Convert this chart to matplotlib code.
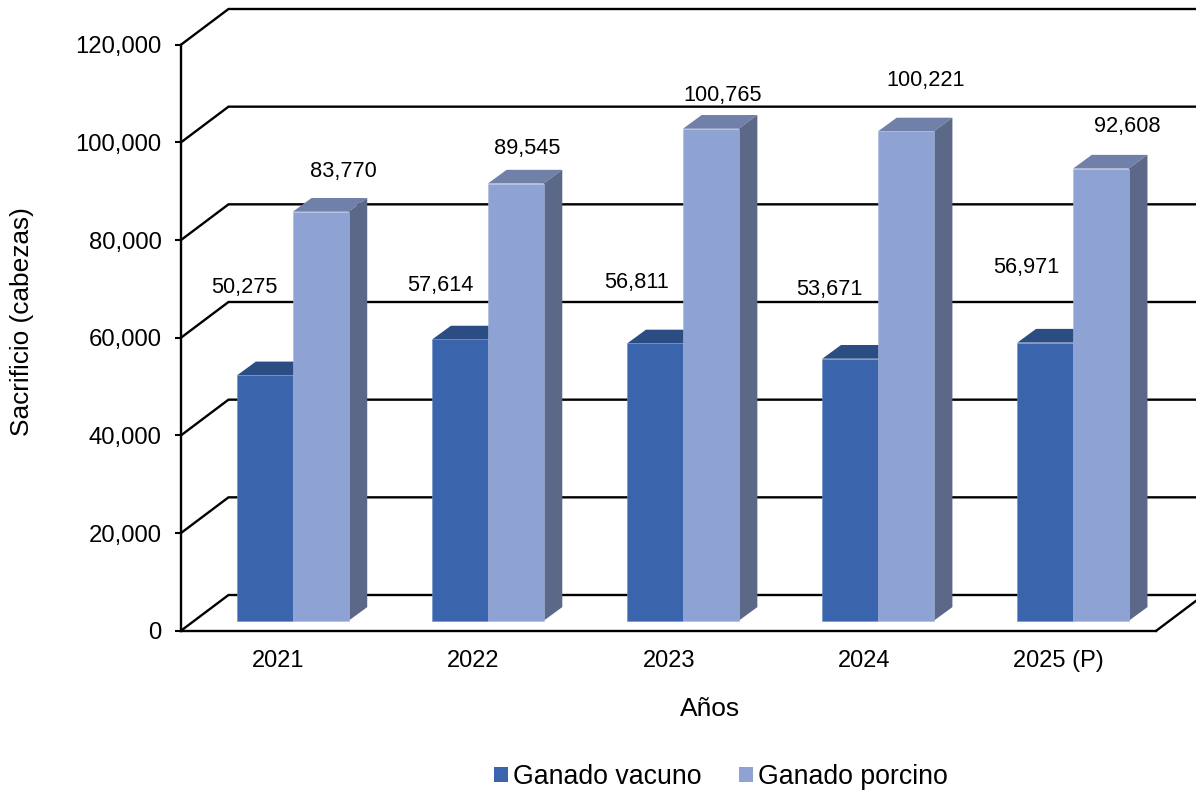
import matplotlib
matplotlib.use("Agg")
import matplotlib.pyplot as plt
from matplotlib.patches import Polygon, Patch

plt.rcParams['font.family'] = ['Liberation Sans', 'DejaVu Sans']

years = ['2021', '2022', '2023', '2024', '2025 (P)']
vacuno = [50275, 57614, 56811, 53671, 56971]
porcino = [83770, 89545, 100765, 100221, 92608]
y_ticks = [0, 20000, 40000, 60000, 80000, 100000, 120000]

# manual label offsets (pixels from the front-top centre of each bar)
off_vac = [(-21, 88), (-20, 54), (-19, 61), (-21, 69), (-19, 75)]
off_por = [(23, 40), (11, 35), (12, 33), (20, 51), (26, 42)]

W, H = 1196, 794
L, R, B, T = 181, 1156.3, 630.7, 44.7
fig = plt.figure(figsize=(W / 100, H / 100), dpi=100, facecolor='white')
ax = fig.add_axes([L / W, 1 - B / H, (R - L) / W, (B - T) / H])
ax.set_xlim(0, 5)
ax.set_ylim(0, 120000)
px_x = 5 / (R - L)
px_y = 120000 / (B - T)

wall_dx, wall_dy = 47.5 * px_x, 35.7 * px_y
shift_dx, shift_dy = 14.3 * px_x, 9.9 * px_y
bar_dx, bar_dy = 18.7 * px_x, 13.7 * px_y
bw = 55.7 * px_x

# walls
for v in y_ticks:
    ax.plot([0, wall_dx, 5 + wall_dx], [v, v + wall_dy, v + wall_dy],
            color='black', lw=1.7, clip_on=False, zorder=1, solid_joinstyle='miter')
ax.plot([5, 5 + wall_dx], [0, wall_dy], color='black', lw=1.7, clip_on=False, zorder=1)

def draw(x0, values, front, top, side, edge, label, offsets):
    ax.bar(x0, values, width=bw, bottom=shift_dy, align='edge', color=front,
           edgecolor=edge, linewidth=0.4, zorder=4, label=label, clip_on=False)
    for x, v, (ox, oy) in zip(x0, values, offsets):
        yt = v + shift_dy
        ax.add_patch(Polygon([(x, yt), (x + bw, yt), (x + bw + bar_dx, yt + bar_dy), (x + bar_dx, yt + bar_dy)],
                             closed=True, facecolor=top, edgecolor='none', zorder=3, clip_on=False))
        ax.add_patch(Polygon([(x + bw, shift_dy), (x + bw + bar_dx, shift_dy + bar_dy),
                              (x + bw + bar_dx, yt + bar_dy), (x + bw, yt)],
                             closed=True, facecolor=side, edgecolor='none', zorder=3, clip_on=False))
        ax.annotate(f'{v:,}', (x + bw / 2, yt), xytext=(ox, oy), textcoords='offset pixels',
                    ha='center', va='center', fontsize=15.7, color='black', zorder=6)

centres = [i + 0.5 + shift_dx for i in range(len(years))]
draw([c - bw for c in centres], vacuno, '#3A64AC', '#2C4C84', '#2C4C84', '#6F8CC4', 'Ganado vacuno', off_vac)
draw(centres, porcino, '#8FA2D4', '#7080A8', '#5B6888', '#A9B8DE', 'Ganado porcino', off_por)

for s in ('top', 'right'):
    ax.spines[s].set_visible(False)
for s in ('left', 'bottom'):
    ax.spines[s].set_linewidth(1.7)
    ax.spines[s].set_zorder(5)

ax.set_yticks(y_ticks)
ax.set_yticklabels([f'{v:,}' for v in y_ticks], fontsize=17.2)
ax.tick_params(axis='y', length=4.5, width=1.5, pad=9.5)
ax.set_xticks([i + 0.5 for i in range(len(years))])
ax.set_xticklabels(years, fontsize=17)
ax.tick_params(axis='x', length=0, pad=14)

fig.text(710 / W, 1 - 709 / H, 'Años', ha='center', va='center', fontsize=19)
fig.text(22 / W, 1 - 322 / H, 'Sacrificio (cabezas)', ha='center', va='center', rotation=90, fontsize=18.9)

handles = [Patch(facecolor='#3A64AC', label='Ganado vacuno'), Patch(facecolor='#8FA2D4', label='Ganado porcino')]
fig.legend(handles=handles, loc='center', bbox_to_anchor=(721 / W, 1 - 777 / H), ncol=2, frameon=False,
           fontsize=19.2, handlelength=0.53, handleheight=0.53, handletextpad=0.2, columnspacing=1.39,
           borderpad=0, borderaxespad=0)

fig.savefig('out.png', dpi=100)
